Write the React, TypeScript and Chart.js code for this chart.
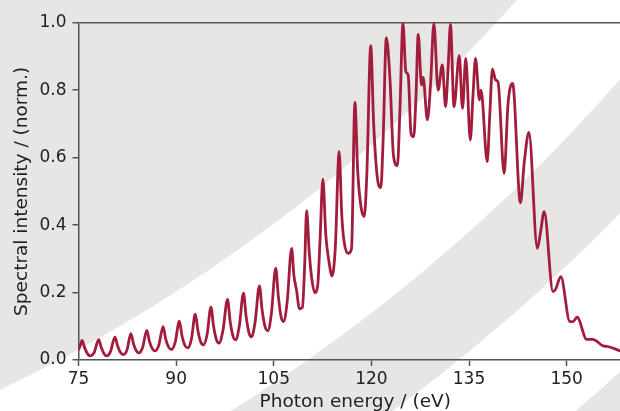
import { useEffect, useRef } from 'react';
import { Chart, registerables } from 'chart.js';

Chart.register(...registerables);

// Photon energy (eV)
const energy = [
  75.0, 75.25,
  75.55, 75.95, 76.4, 76.8, 77.4,
  78.1, 78.5, 78.95, 79.35, 79.9,
  80.6, 81.0, 81.45, 81.9, 82.45,
  83.05, 83.45, 83.9, 84.3, 84.85,
  85.5, 85.9, 86.35, 86.8, 87.35,
  88.0, 88.4, 88.85, 89.3, 89.85,
  90.5, 90.9, 91.35, 91.8, 92.35,
  92.95, 93.35, 93.8, 94.2, 94.75,
  95.35, 95.75, 96.2, 96.6, 97.2,
  97.9, 98.3, 98.75, 99.15, 99.7,
  100.35, 100.75, 101.2, 101.6, 102.15,
  102.8, 103.2, 103.65, 104.1, 104.65,
  105.3, 105.7, 106.1, 106.5, 107.05,
  107.75, 108.1, 108.5, 108.95, 109.4, 109.75,
  110.05, 110.45, 110.85, 111.3, 111.75, 112.1,
  112.55, 113.0, 113.5, 113.95, 114.45,
  115.05, 115.45, 115.8, 116.45, 116.95,
  117.47, 117.9, 118.4, 118.9, 119.3,
  119.9, 120.35, 120.9, 121.45, 121.8,
  122.3, 122.85, 123.4, 124.0, 124.4,
  124.85, 125.3, 125.65, 126.1, 126.5, 126.85,
  127.2, 127.7, 127.95, 128.6, 129.1,
  129.6, 130.25, 130.9, 131.4, 131.8,
  132.15, 132.7, 133.5, 134.0, 134.5, 135.2, 135.6,
  136.0, 136.6, 136.85, 137.8, 138.2,
  138.6, 139.1, 139.45, 140.4, 141.0,
  141.7, 142.9, 143.5, 144.2, 145.5,
  146.0, 146.55, 147.9, 148.3, 149.1,
  150.5, 151.0, 151.6, 153.1, 154.0,
  155.6, 156.3, 158.3,
];

// Spectral intensity (normalised) at each energy above
const intensity = [
  0.03, 0.042,
  0.058, 0.036, 0.018, 0.012, 0.022,
  0.06, 0.037, 0.018, 0.012, 0.024,
  0.068, 0.042, 0.022, 0.016, 0.03,
  0.078, 0.048, 0.027, 0.021, 0.037,
  0.088, 0.055, 0.033, 0.027, 0.045,
  0.099, 0.062, 0.038, 0.031, 0.052,
  0.115, 0.072, 0.043, 0.036, 0.062,
  0.136, 0.087, 0.053, 0.045, 0.075,
  0.157, 0.1, 0.06, 0.05, 0.088,
  0.18, 0.115, 0.07, 0.06, 0.1,
  0.198, 0.13, 0.08, 0.069, 0.115,
  0.22, 0.15, 0.1, 0.087, 0.14,
  0.272, 0.19, 0.13, 0.114, 0.17,
  0.331, 0.25, 0.207, 0.152, 0.156, 0.28,
  0.443, 0.32, 0.24, 0.2, 0.22, 0.35,
  0.536, 0.37, 0.29, 0.249, 0.33,
  0.618, 0.43, 0.352, 0.316, 0.33,
  0.764, 0.56, 0.455, 0.425, 0.55,
  0.932, 0.7, 0.543, 0.511, 0.65,
  0.956, 0.835, 0.605, 0.576, 0.75,
  0.998, 0.855, 0.845, 0.67, 0.662, 0.78,
  0.965, 0.815, 0.838, 0.712, 0.82,
  0.998, 0.8, 0.875, 0.751, 0.87,
  0.995, 0.751, 0.902, 0.746, 0.894, 0.652, 0.78,
  0.894, 0.771, 0.8, 0.588, 0.73,
  0.862, 0.83, 0.825, 0.553, 0.761,
  0.82, 0.466, 0.588, 0.675, 0.331,
  0.38, 0.44, 0.203, 0.21, 0.247,
  0.114, 0.114, 0.127, 0.061, 0.061,
  0.042, 0.04, 0.027,
];

const xTicks = [75, 90, 105, 120, 135, 150];
const yTicks = [0, 0.2, 0.4, 0.6, 0.8, 1.0];
const xMin = 75;
const xMax = 158.2;
const yMin = 0;
const yMax = 1;
const xTitle = 'Photon energy / (eV)';
const yTitle = 'Spectral intensity / (norm.)';

const FONT = 'DejaVu Sans';
const GRAY = '#e7e6e4';
const WHITE = '#ffffff';
const AXIS = '#555555';
const TEXT = '#222222';
const LINE = '#a21c3c';

export default function App() {
  const ref = useRef<HTMLCanvasElement>(null);

  useEffect(() => {
    document.body.style.margin = '0';
    const canvas = ref.current;
    if (!canvas) return;

    const background = {
      id: 'bandBackground',
      beforeDraw(chart: any) {
        const { ctx, width, height } = chart;
        const cx = -702;
        const cy = -1078;
        const radii = [1962, 1848, 1757, 1627];
        const fills = [WHITE, GRAY, WHITE, GRAY];
        ctx.save();
        ctx.fillStyle = GRAY;
        ctx.fillRect(0, 0, width, height);
        radii.forEach((r, i) => {
          ctx.beginPath();
          ctx.arc(cx, cy, r, 0, Math.PI * 2);
          ctx.fillStyle = fills[i];
          ctx.fill();
        });
        ctx.restore();
      },
    };

    const xTitlePlugin = {
      id: 'xTitle',
      afterDraw(chart: any) {
        const { ctx, chartArea, height } = chart;
        ctx.save();
        ctx.font = `18.5px "${FONT}"`;
        ctx.fillStyle = TEXT;
        ctx.textAlign = 'center';
        ctx.textBaseline = 'alphabetic';
        ctx.fillText(xTitle, (chartArea.left + chartArea.right) / 2 + 6, height - 4);
        ctx.restore();
      },
    };

    const chart = new Chart(canvas, {
      type: 'line',
      data: {
        datasets: [
          {
            data: energy.map((x, i) => ({ x, y: intensity[i] })),
            borderColor: LINE,
            borderWidth: 2.8,
            pointRadius: 0,
            cubicInterpolationMode: 'monotone',
            fill: false,
          },
        ],
      },
      options: {
        responsive: false,
        animation: false,
        devicePixelRatio: 1,
        layout: { padding: { top: 22.7, left: 0, right: 0, bottom: 0 } },
        plugins: { legend: { display: false }, tooltip: { enabled: false } },
        scales: {
          x: {
            type: 'linear',
            min: xMin,
            max: xMax,
            afterBuildTicks: (s: any) => {
              s.ticks = xTicks.map((v) => ({ value: v }));
            },
            afterFit: (s: any) => {
              s.height = 51;
              s.paddingLeft = 0;
              s.paddingRight = 0;
            },
            ticks: {
              font: { family: FONT, size: 17 },
              color: TEXT,
              padding: 3,
              maxRotation: 0,
              autoSkip: false,
              callback: (v: any) => String(v),
            },
            grid: {
              drawOnChartArea: false,
              drawTicks: true,
              tickLength: 6,
              tickColor: AXIS,
              tickWidth: 1.5,
              color: AXIS,
            },
            border: { display: true, color: AXIS, width: 1.5 },
            title: { display: false },
          },
          y: {
            type: 'linear',
            min: yMin,
            max: yMax,
            afterBuildTicks: (s: any) => {
              s.ticks = yTicks.map((v) => ({ value: v }));
            },
            afterFit: (s: any) => {
              s.width = 78.5;
              s.paddingTop = 0;
              s.paddingBottom = 0;
            },
            ticks: {
              font: { family: FONT, size: 17 },
              color: TEXT,
              padding: 6,
              autoSkip: false,
              callback: (v: any) => Number(v).toFixed(1),
            },
            grid: {
              drawTicks: true,
              tickLength: 6,
              tickColor: AXIS,
              tickWidth: 1.5,
              lineWidth: 1.5,
              color: (c: any) => (c.tick && c.tick.value === 1 ? AXIS : 'rgba(0,0,0,0)'),
            },
            border: { display: true, color: AXIS, width: 1.5 },
            title: {
              display: true,
              text: yTitle,
              font: { family: FONT, size: 18.5 },
              color: TEXT,
              padding: { top: 10.6, bottom: 0 },
            },
          },
        },
      },
      plugins: [background, xTitlePlugin],
    } as any);

    return () => chart.destroy();
  }, []);

  return (
    <div style={{ width: 620, height: 411 }}>
      <canvas ref={ref} width={620} height={411} style={{ display: 'block' }} />
    </div>
  );
}
